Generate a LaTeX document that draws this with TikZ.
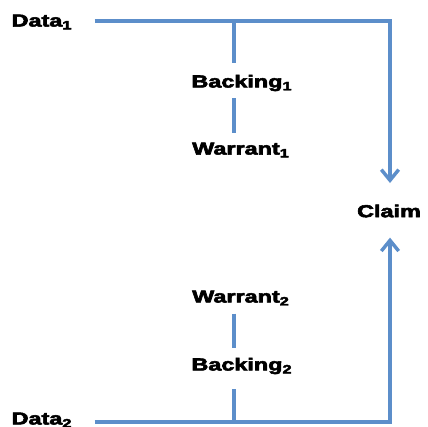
\documentclass[tikz,border=0pt]{standalone}
\usepackage{fontspec}
\setmainfont{Liberation Sans}[BoldFeatures={FakeBold=3}]
\usetikzlibrary{arrows.meta}
\definecolor{lineblue}{RGB}{92,142,202}
\newcommand{\tlabel}[2]{\scalebox{1.35}[1]{\bfseries #1\textsubscript{#2}}}

\begin{document}
\begin{tikzpicture}[x=0.75pt,y=-0.75pt,
		lbl/.style={font=\fontsize{13}{15}\selectfont,inner sep=0pt},
		link/.style={color=lineblue,line width=2.8pt},
		tip/.style={-{Straight Barb[length=8pt,width=13pt,line width=2.6pt]}}]
	\useasboundingbox (0,0) rectangle (428,427);
	% labels
	\node[lbl] (data1) at (42,22) {\tlabel{Data}{1}};
	\node[lbl] (backing1) at (242,83) {\tlabel{Backing}{1}};
	\node[lbl] (warrant1) at (241,150) {\tlabel{Warrant}{1}};
	\node[lbl] (claim) at (389,211) {\scalebox{1.35}[1]{\bfseries Claim}};
	\node[lbl] (warrant2) at (241,298) {\tlabel{Warrant}{2}};
	\node[lbl] (backing2) at (242,366) {\tlabel{Backing}{2}};
	\node[lbl] (data2) at (42,420) {\tlabel{Data}{2}};
	% corners and joints
	\coordinate (c1) at (390,21);
	\coordinate (c2) at (390,422);
	\coordinate (j1) at (234,21);
	\coordinate (j2) at (234,422);
	% data to claim
	\draw[link,tip,shorten <=16.5pt,shorten >=16pt] (data1.east |- c1) -- (c1) -- (c1 |- claim.north);
	\draw[link,tip,shorten <=16.5pt,shorten >=15pt] (data2.east |- c2) -- (c2) -- (c2 |- claim.south);
	% warrant and backing
	\draw[link,shorten >=8.8pt] (j1) -- (j1 |- backing1.north);
	\draw[link,shorten <=5pt,shorten >=7pt] (j1 |- backing1.south) -- (j1 |- warrant1.north);
	\draw[link,shorten <=6pt,shorten >=7pt] (j2 |- warrant2.south) -- (j2 |- backing2.north);
	\draw[link,shorten <=11pt] (j2 |- backing2.south) -- (j2);
\end{tikzpicture}
\end{document}
